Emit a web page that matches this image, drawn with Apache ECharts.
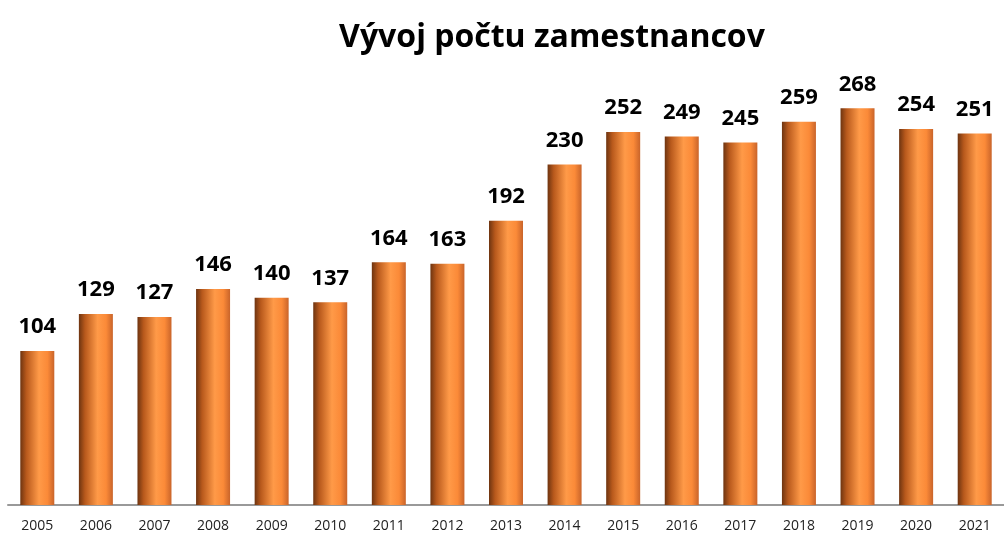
<!DOCTYPE html>
<html>
<head>
<meta charset="utf-8">
<script src="https://cdn.jsdelivr.net/npm/echarts@6/dist/echarts.min.js"></script>
<style>
  html, body { margin: 0; padding: 0; background: #fff; }
  #chart { width: 1004px; height: 537px; }
</style>
</head>
<body>
<div id="chart"></div>
<script>
const years = ['2005', '2006', '2007', '2008', '2009', '2010', '2011', '2012', '2013',
  '2014', '2015', '2016', '2017', '2018', '2019', '2020', '2021'];
const employees = [104, 129, 127, 146, 140, 137, 164, 163, 192, 230, 252, 249, 245, 259, 268, 254, 251];

const chart = echarts.init(document.getElementById('chart'));

const barColor = new echarts.graphic.LinearGradient(0, 0, 1, 0, [
  { offset: 0, color: '#6e3410' },
  { offset: 0.18, color: '#b8591c' },
  { offset: 0.55, color: '#ff9a48' },
  { offset: 0.8, color: '#fb8a38' },
  { offset: 1, color: '#c9642a' }
]);

chart.setOption({
  animation: false,
  title: {
    text: 'Vývoj počtu zamestnancov',
    left: 547,
    top: 17,
    textAlign: 'center',
    textStyle: { fontFamily: 'Open Sans', fontWeight: 'bold', fontSize: 32, color: '#000' }
  },
  grid: { left: 8, width: 1007, top: 61, bottom: 32, containLabel: false },
  xAxis: {
    type: 'category',
    data: years,
    axisTick: { show: false },
    axisLine: { lineStyle: { color: '#999', width: 2 } },
    axisLabel: { fontFamily: 'Open Sans', fontSize: 14, color: '#222', margin: 14 }
  },
  yAxis: {
    type: 'value',
    min: 0,
    max: 300,
    show: false,
    splitLine: { show: false }
  },
  series: [{
    type: 'bar',
    data: employees,
    barWidth: 34,
    itemStyle: { color: barColor },
    label: {
      show: true,
      position: 'top',
      distance: 13,
      fontFamily: 'Open Sans',
      fontWeight: 'bold',
      fontSize: 22,
      color: '#000'
    }
  }]
});
</script>
</body>
</html>
